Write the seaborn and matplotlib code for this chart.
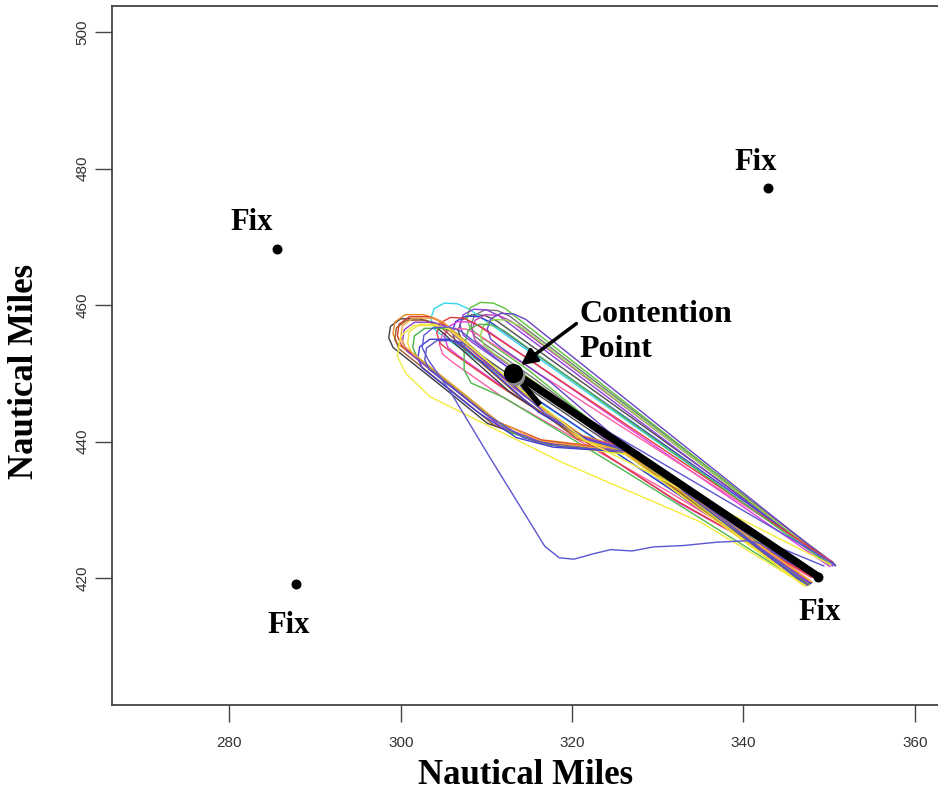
import pandas as pd
import seaborn as sns
import matplotlib.pyplot as plt

# Flight tracks around the contention point, in nautical miles.
# Right group: loops that turn close to the contention point.
# Left group: long loops turning near x = 299-303.
track_names = [
    "R1", "R2", "R3", "R4", "R5", "R6", "R7", "R8", "R9", "R10", "R11", "R12", "R13",
    "L1", "L2", "L3", "L4", "L5", "L6", "L7", "L8", "L9", "L10",
    "Y2", "B2",
]
track_colors = [
    "#777777", "#4d4d4d", "#35d4e8", "#5cc23c", "#8b3fd6", "#3b3bd0", "#e23de2",
    "#ff5ea8", "#c040c0", "#8fdc45", "#6a42c8", "#e23b3b", "#4cb84c",
    "#3d3d3d", "#e8871e", "#d93636", "#9c5a2a", "#f0e23a", "#48b048", "#3e3ed8",
    "#9040d0", "#f2a33a", "#5a50c8",
    "#f4ec3c", "#5a55d0",
]
track_x = [
    [350.8, 312.7, 311.3, 309.8, 308.6, 308.2, 308.6, 309.8, 315.5, 336.0, 348.6],
    [350.5, 311.2, 309.8, 308.3, 307.1, 306.7, 307.1, 308.3, 314.0, 334.0, 348.2],
    [350.2, 308.0, 306.6, 305.1, 303.9, 303.5, 303.9, 305.1, 310.8, 333.0, 348.0],
    [350.0, 312.2, 310.8, 309.3, 308.1, 307.7, 308.1, 309.3, 315.0, 332.0, 347.8],
    [350.4, 311.4, 310.0, 308.5, 307.3, 306.9, 307.3, 308.5, 314.2, 333.5, 348.4],
    [350.6, 310.5, 309.1, 307.6, 306.4, 306.0, 306.4, 307.6, 313.3, 334.5, 348.5],
    [350.1, 309.6, 308.2, 306.7, 305.5, 305.1, 305.5, 306.7, 312.4, 332.5, 348.0],
    [350.3, 309.0, 307.6, 306.1, 304.9, 304.5, 304.9, 306.1, 311.8, 331.5, 347.9],
    [350.5, 312.8, 311.4, 309.9, 308.7, 308.3, 308.7, 309.9, 315.6, 334.0, 348.3],
    [350.2, 313.8, 312.4, 310.9, 309.7, 309.3, 309.7, 310.9, 316.6, 333.0, 348.1],
    [350.7, 314.6, 313.2, 311.7, 310.5, 310.1, 310.5, 311.7, 317.4, 335.0, 348.6],
    [350.4, 308.7, 307.3, 305.8, 304.6, 304.2, 304.6, 305.8, 311.5, 332.0, 348.2],
    [350.0, 312.0, 310.6, 309.1, 307.9, 307.4, 307.4, 308.2, 312.0, 326.8, 347.4],
    [347.6, 326.5, 320.9, 312.7, 303.6, 302.2, 300.0, 298.8, 298.6, 299.1, 305.4, 310.1, 316.0, 327.0, 347.8],
    [347.4, 326.8, 321.2, 313.2, 304.1, 302.7, 300.5, 299.3, 299.1, 299.6, 305.9, 310.6, 316.3, 327.3, 347.6],
    [347.9, 326.3, 321.0, 313.7, 304.6, 303.2, 301.0, 299.8, 299.6, 300.1, 306.4, 311.1, 316.5, 326.8, 348.0],
    [347.3, 326.0, 320.6, 313.4, 304.3, 302.9, 300.7, 299.5, 299.3, 299.8, 306.1, 310.8, 316.2, 326.6, 347.5],
    [347.0, 326.2, 321.3, 314.9, 305.8, 304.4, 302.2, 301.0, 300.8, 301.3, 307.6, 312.3, 317.0, 327.2, 347.2],
    [347.5, 326.4, 321.5, 315.5, 306.4, 305.0, 302.8, 301.6, 301.4, 301.9, 308.2, 312.9, 317.5, 327.4, 347.7],
    [347.7, 326.6, 321.6, 316.1, 307.0, 305.6, 303.4, 302.2, 302.0, 302.5, 308.8, 313.5, 317.8, 327.5, 347.9],
    [347.5, 326.7, 321.1, 314.3, 305.2, 303.8, 301.6, 300.4, 300.2, 300.7, 307.0, 311.7, 316.6, 327.1, 347.6],
    [347.8, 326.1, 320.8, 314.1, 305.0, 303.6, 301.4, 300.2, 300.0, 300.5, 306.8, 311.5, 316.4, 326.9, 347.9],
    [347.2, 326.9, 321.8, 316.9, 307.8, 306.4, 304.2, 303.0, 302.8, 303.3, 309.6, 314.3, 318.5, 327.7, 347.4],
    [350.2, 321.5, 314.5, 305.5, 304.0, 301.5, 300.0, 299.6, 300.6, 303.4, 318.6, 334.9, 347.2],
    [350.5, 316.0, 307.0, 305.6, 303.8, 302.7, 302.5, 303.2, 305.7, 310.4, 316.8, 318.5, 320.2,
     322.5, 324.5, 327.0, 329.5, 333.0, 337.0, 340.5, 344.0, 349.4],
]
track_y = [
    [421.9, 458.4, 459.2, 459.3, 458.5, 457.0, 455.5, 454.3, 449.3, 430.0, 420.4],
    [422.3, 457.7, 458.5, 458.6, 457.8, 456.3, 454.8, 453.6, 448.6, 431.5, 420.8],
    [422.0, 459.4, 460.2, 460.3, 459.5, 458.0, 456.5, 455.3, 450.3, 431.8, 420.6],
    [422.4, 459.5, 460.3, 460.4, 459.6, 458.1, 456.6, 455.4, 450.4, 433.0, 420.2],
    [421.8, 458.5, 459.3, 459.4, 458.6, 457.1, 455.6, 454.4, 449.4, 431.5, 420.5],
    [422.0, 457.5, 458.3, 458.4, 457.6, 456.1, 454.6, 453.4, 448.4, 430.5, 420.0],
    [421.7, 456.7, 457.5, 457.6, 456.8, 455.3, 453.8, 452.6, 447.6, 431.0, 420.3],
    [422.5, 455.7, 456.5, 456.6, 455.8, 454.3, 452.8, 451.6, 446.6, 432.5, 420.1],
    [422.1, 457.7, 458.5, 458.6, 457.8, 456.3, 454.8, 453.6, 448.6, 430.8, 420.4],
    [422.2, 457.0, 457.8, 457.9, 457.1, 455.6, 454.1, 452.9, 447.9, 431.8, 420.7],
    [421.8, 457.9, 458.7, 458.8, 458.0, 456.5, 455.0, 453.8, 448.8, 430.0, 420.2],
    [422.3, 457.3, 458.1, 458.2, 457.4, 455.9, 454.4, 453.2, 448.2, 431.5, 420.1],
    [422.0, 456.3, 457.1, 457.2, 456.4, 454.0, 450.5, 448.6, 446.5, 435.2, 419.0],
    [419.4, 438.6, 440.6, 447.3, 457.4, 458.0, 458.0, 456.9, 455.2, 453.8, 447.5, 442.7, 440.0, 438.4, 419.2],
    [419.6, 438.9, 440.9, 447.9, 458.0, 458.6, 458.6, 457.5, 455.8, 454.4, 448.1, 443.3, 440.3, 438.7, 419.0],
    [419.5, 438.8, 440.8, 447.6, 457.7, 458.3, 458.3, 457.2, 455.5, 454.1, 447.8, 443.0, 440.2, 438.5, 419.4],
    [419.2, 438.4, 440.4, 447.1, 457.2, 457.8, 457.8, 456.7, 455.0, 453.6, 447.3, 442.5, 439.8, 438.2, 419.0],
    [419.0, 438.2, 440.2, 446.5, 456.6, 457.2, 457.2, 456.1, 454.4, 453.0, 446.7, 441.9, 439.6, 438.0, 418.8],
    [419.3, 438.5, 440.3, 445.9, 456.0, 456.6, 456.6, 455.5, 453.8, 452.4, 446.1, 441.3, 439.5, 438.3, 419.1],
    [419.5, 438.7, 440.4, 444.3, 454.4, 455.0, 455.0, 453.9, 452.2, 450.8, 444.5, 440.6, 439.2, 438.4, 419.3],
    [419.5, 438.9, 440.7, 446.8, 456.9, 457.5, 457.5, 456.4, 454.7, 453.3, 447.0, 442.2, 439.9, 438.6, 419.3],
    [419.6, 438.5, 440.5, 447.4, 457.5, 458.1, 458.1, 457.0, 455.3, 453.9, 447.6, 442.8, 440.1, 438.4, 419.5],
    [419.1, 438.6, 440.3, 444.1, 454.2, 454.8, 454.8, 453.7, 452.0, 450.6, 444.3, 440.6, 439.3, 438.5, 419.0],
    [422.0, 440.2, 447.2, 456.6, 457.0, 457.0, 455.5, 452.5, 450.0, 446.6, 437.1, 428.3, 419.0],
    [422.2, 447.5, 456.2, 456.8, 456.7, 455.6, 453.8, 452.0, 447.5, 437.7, 424.7, 423.0, 422.8,
     423.6, 424.2, 424.0, 424.6, 424.8, 425.3, 425.5, 424.6, 421.8],
]

# navigation fixes and their labels
fix_x = [285.6, 287.8, 342.9, 348.7]
fix_y = [468.2, 419.1, 477.2, 420.2]
fix_label_x = [282.65, 286.97, 341.45, 348.9]
fix_label_y = [471.0, 412.0, 479.8, 413.9]

contention_x, contention_y = 313.1, 450.1
route_start = (348.67, 420.3)
route_end = (313.6, 449.8)
route_barb = [(314.15, 448.5), (316.25, 445.4)]

x_ticks = [280, 300, 320, 340, 360]
y_ticks = [420, 440, 460, 480, 500]

rows = []
for name, xs, ys in zip(track_names, track_x, track_y):
    for i, (x, y) in enumerate(zip(xs, ys)):
        rows.append({"track": name, "step": i, "x": x, "y": y})
df = pd.DataFrame(rows)

sns.set_theme(style="white")
plt.rcParams["font.family"] = ["Liberation Sans", "DejaVu Sans"]
plt.rcParams["text.color"] = "black"

fig = plt.figure(figsize=(9.38, 7.95), dpi=100)
ax = fig.add_axes([112 / 938, 90 / 795, 826 / 938, 699 / 795])

sns.lineplot(
    data=df, x="x", y="y", hue="track", units="track", estimator=None, sort=False,
    palette=dict(zip(track_names, track_colors)), legend=False, lw=1.0, ax=ax,
)
for line in ax.get_lines():
    line.set_solid_joinstyle("round")

# fixes
ax.scatter(fix_x, fix_y, s=38, color="black", zorder=5)
serif = ["Liberation Serif", "DejaVu Serif"]
for lx, ly in zip(fix_label_x, fix_label_y):
    ax.text(lx, ly, "Fix", family=serif, fontweight="bold", fontsize=22,
            ha="center", va="baseline", color="black")

# route to the contention point
ax.plot([route_start[0], route_end[0]], [route_start[1], route_end[1]],
        color="black", lw=5.5, solid_capstyle="butt", zorder=6)
ax.plot([p[0] for p in route_barb], [p[1] for p in route_barb],
        color="black", lw=4.0, solid_capstyle="butt", zorder=6)
ax.scatter([contention_x + 0.25], [contention_y - 0.45], s=175, color="#8a8a8a", zorder=6)
ax.scatter([contention_x], [contention_y], s=165, color="black", zorder=7)

ax.text(320.9, 457.5, "Contention", family=serif, fontweight="bold", fontsize=23,
        ha="left", va="baseline", color="black")
ax.text(320.9, 452.4, "Point", family=serif, fontweight="bold", fontsize=23,
        ha="left", va="baseline", color="black")
ax.annotate("", xy=(314.0, 451.2), xytext=(320.5, 457.3),
            arrowprops=dict(arrowstyle="-|>", lw=2.5, color="black", mutation_scale=24,
                            shrinkA=0, shrinkB=0), zorder=8)

ax.set_xlim(266.3, 362.7)
ax.set_ylim(401.45, 503.8)
ax.set_xticks(x_ticks)
ax.set_yticks(y_ticks)
ax.set_xlabel("")
ax.set_ylabel("")
ax.tick_params(axis="both", direction="out", length=12, width=1.0, color="#444444",
               labelsize=11, labelcolor="#333333")
ax.tick_params(axis="x", pad=10, bottom=True)
ax.tick_params(axis="y", pad=4, left=True)
for lab in ax.get_yticklabels():
    lab.set_rotation(90)
    lab.set_va("center")

for side in ["left", "bottom", "top"]:
    ax.spines[side].set_color("#444444")
    ax.spines[side].set_linewidth(1.3)
ax.spines["right"].set_visible(False)

fig.text(526 / 938, 1 - 775 / 795, "Nautical Miles", family=serif, fontweight="bold",
         fontsize=25, ha="center", va="center", color="black")
fig.text(25 / 938, 1 - 371 / 795, "Nautical Miles", family=serif, fontweight="bold",
         fontsize=25, ha="center", va="center", rotation=90, color="black")

fig.savefig("out.png", dpi=100)
